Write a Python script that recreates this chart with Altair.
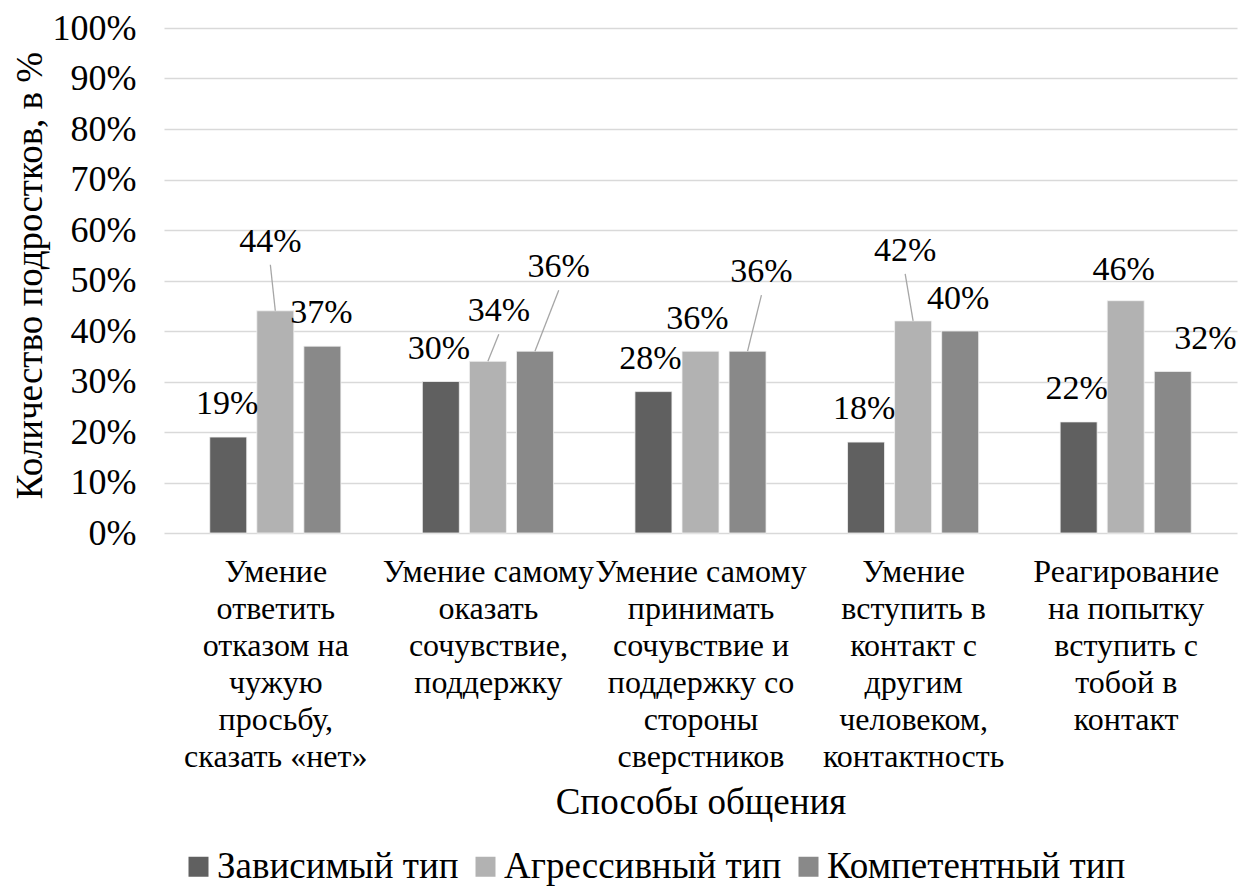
import json
import altair as alt
import pandas as pd

# ---------------- data ----------------
categories = [
    "Умение\nответить\nотказом на\nчужую\nпросьбу,\nсказать «нет»",
    "Умение самому\nоказать\nсочувствие,\nподдержку",
    "Умение самому\nпринимать\nсочувствие и\nподдержку со\nстороны\nсверстников",
    "Умение\nвступить в\nконтакт с\nдругим\nчеловеком,\nконтактность",
    "Реагирование\nна попытку\nвступить с\nтобой в\nконтакт",
]
series_names = ["Зависимый тип", "Агрессивный тип", "Компетентный тип"]
dependent = [0.19, 0.30, 0.28, 0.18, 0.22]
aggressive = [0.44, 0.34, 0.36, 0.42, 0.46]
competent = [0.37, 0.36, 0.36, 0.40, 0.32]
y_ticks = [0.0, 0.1, 0.2, 0.3, 0.4, 0.5, 0.6, 0.7, 0.8, 0.9, 1.0]

# data-label placement, in px relative to the bar's top centre
label_dx = [
    [-1, -2, -3, -2, -2],
    [-5, 11, -3, -8, -2],
    [-1, 24, 14, -2, 33],
]
label_lift = [
    [33, 33, 33, 33, 33],
    [69, 50, 32, 70, 31],
    [33, 84, 79, 32, 32],
]
leader = [
    [False, False, False, False, False],
    [True, True, False, True, False],
    [False, True, True, False, False],
]

# ---------------- styles ----------------
colors = ["#606060", "#b2b2b2", "#898989"]
FONT = "Liberation Serif, Times New Roman, serif"
FS_CAT = 32
FS_TICK = 36
FS_TITLE = 37
FS_LEG = 37
FS_LAB = 34
W, H = 1073, 505
GROUP_PX = W / len(categories)
BAR_STEP_PX = 47.5
BAR_W = 37
LEADER_GAP = 23

values = [dependent, aggressive, competent]
rows = []
for i, cat in enumerate(categories):
    for j, s in enumerate(series_names):
        v = values[j][i]
        pos = i + 0.5 + (j - 1) * BAR_STEP_PX / GROUP_PX
        lx = pos + label_dx[j][i] / GROUP_PX
        ly = v + label_lift[j][i] / H
        rows.append(dict(
            category=cat, series=s, value=v, pos=pos, lx=lx, ly=ly,
            lend=ly - LEADER_GAP / H, leader=leader[j][i],
            label=f"{round(v * 100)}%",
        ))
df = pd.DataFrame(rows)

cat_lines = [c.split("\n") for c in categories]
label_expr = json.dumps(cat_lines, ensure_ascii=False) + "[floor(datum.value)]"

x_scale = alt.Scale(domain=[0, len(categories)], nice=False, zero=False)
y_scale = alt.Scale(domain=[0, 1], nice=False)

x_axis = alt.Axis(
    values=[i + 0.5 for i in range(len(categories))],
    labelExpr=label_expr, grid=False, domain=False, ticks=False,
    labelFont=FONT, labelFontSize=FS_CAT, labelColor="black",
    labelLineHeight=37, labelBaseline="top", labelPadding=23,
    labelLimit=500, labelOverlap=False, labelFlush=False,
    title="Способы общения", titleFont=FONT, titleFontSize=FS_TITLE,
    titleFontWeight="normal", titleColor="black",
    titleY=269, titleBaseline="middle",
)
y_axis = alt.Axis(
    values=y_ticks, format=".0%", grid=True, gridColor="#d9d9d9",
    gridWidth=1.5, domain=False, ticks=False,
    labelFont=FONT, labelFontSize=FS_TICK, labelColor="black",
    labelPadding=28,
    title="Количество подростков, в %", titleFont=FONT,
    titleFontSize=FS_TITLE, titleFontWeight="normal", titleColor="black",
    titleAngle=270, titleX=-134, titleY=247, titleAlign="center",
    titleBaseline="middle",
)

bars = alt.Chart(df).mark_bar(size=BAR_W, stroke="#f2f2f2", strokeWidth=0.8).encode(
    x=alt.X("pos:Q", scale=x_scale, axis=x_axis),
    y=alt.Y("value:Q", scale=y_scale, axis=y_axis),
    color=alt.Color("series:N", scale=alt.Scale(domain=series_names, range=colors),
                    legend=alt.Legend(
                        orient="none", legendX=16, legendY=820,
                        direction="horizontal", title=None,
                        symbolType="square", symbolSize=400,
                        symbolStrokeWidth=0, labelFont=FONT,
                        labelFontSize=FS_LEG, labelColor="black",
                        labelOffset=0, columnPadding=8, labelLimit=600,
                        padding=0,
                    )),
)

rules = alt.Chart(df).transform_filter("datum.leader").mark_rule(
    color="#a6a6a6", strokeWidth=1.3
).encode(
    x=alt.X("pos:Q", scale=x_scale, axis=x_axis),
    y=alt.Y("value:Q", scale=y_scale, axis=y_axis),
    x2="lx:Q",
    y2="lend:Q",
)

texts = alt.Chart(df).mark_text(
    font=FONT, fontSize=FS_LAB, color="black", align="center", baseline="middle"
).encode(
    x=alt.X("lx:Q", scale=x_scale, axis=x_axis),
    y=alt.Y("ly:Q", scale=y_scale, axis=y_axis),
    text="label:N",
)

chart = alt.layer(bars, rules, texts).properties(
    width=W, height=H,
    autosize=alt.AutoSizeParams(type="none"),
    padding={"left": 156, "top": 20, "right": 12, "bottom": 354},
).configure_view(stroke=None)

chart.save("out.html", embed_options={"renderer": "svg", "actions": False})
